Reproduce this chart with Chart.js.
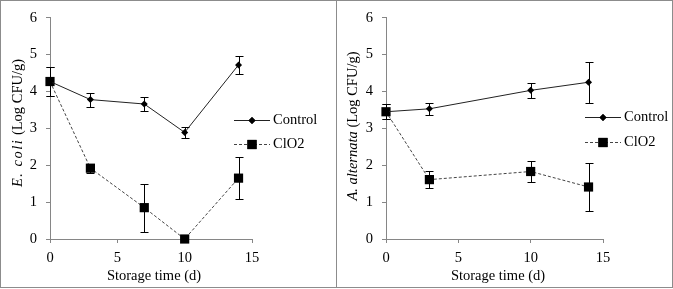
<!DOCTYPE html>
<html>
<head>
<meta charset="utf-8">
<script src="https://cdn.jsdelivr.net/npm/chart.js@4.4.1/dist/chart.umd.min.js"></script>
<style>
    html, body { margin: 0; padding: 0; background: #fff; }
    .panel { position: absolute; top: 0; height: 288px; box-sizing: border-box; border: 1px solid #8c8c8c; }
    canvas { position: absolute; top: 0; }
</style>
</head>
<body>
<div class="panel" style="left:0;width:337px;"></div>
<div class="panel" style="left:336px;width:337px;"></div>
<canvas id="ecoli" width="337" height="288" style="left:0"></canvas>
<canvas id="alter" width="336" height="288" style="left:337px"></canvas>
<script>
(function () {
    'use strict';

    // E. coli panel
    var ecoliDays = [0, 3, 7, 10, 14];
    var ecoliControl = [4.27, 3.78, 3.66, 2.89, 4.72];
    var ecoliControlErr = [0.40, 0.19, 0.18, 0.15, 0.25];
    var ecoliClo2 = [4.27, 1.92, 0.85, 0, 1.65];
    var ecoliClo2Err = [0.40, 0.12, 0.65, 0, 0.56];

    // A. alternata panel
    var alterDays = [0, 3, 10, 14];
    var alterControl = [3.45, 3.53, 4.03, 4.25];
    var alterControlErr = [0.21, 0.16, 0.21, 0.56];
    var alterClo2 = [3.45, 1.61, 1.83, 1.41];
    var alterClo2Err = [0.21, 0.23, 0.29, 0.66];

    var seriesNames = ['Control', 'ClO2'];
    var xRange = [0, 15], xStep = 5;
    var yRange = [0, 6], yStep = 1;

    var fontFamily = '"Liberation Serif", "Times New Roman", serif',
        fontSize = 14.5,
        axisColor = '#868686',
        textColor = '#000';

    function toPoints (xs, ys) {
        return xs.map(function (x, i) {
            return { x: x, y: ys[i] };
        });
    }

    var errorBars = {
        id: 'errorBars',
        afterDatasetsDraw: function (chart) {
            var ctx = chart.ctx,
                xs = chart.scales.x,
                ys = chart.scales.y;
            ctx.save();
            ctx.strokeStyle = '#000';
            ctx.lineWidth = 1;
            chart.data.datasets.forEach(function (ds) {
                ds.data.forEach(function (p, i) {
                    var err = ds.errors[i];
                    if (!err) {
                        return;
                    }
                    var px = Math.round(xs.getPixelForValue(p.x)) + 0.5,
                        top = Math.round(ys.getPixelForValue(p.y + err)) + 0.5,
                        bot = Math.round(ys.getPixelForValue(p.y - err)) + 0.5;
                    ctx.beginPath();
                    ctx.moveTo(px, top);
                    ctx.lineTo(px, bot);
                    ctx.moveTo(px - 4, top);
                    ctx.lineTo(px + 4, top);
                    ctx.moveTo(px - 4, bot);
                    ctx.lineTo(px + 4, bot);
                    ctx.stroke();
                });
            });
            ctx.restore();
        }
    };

    var decorations = {
        id: 'decorations',
        afterDraw: function (chart) {
            var ctx = chart.ctx,
                o = chart.options.plugins.decorations,
                area = chart.chartArea;

            ctx.save();
            ctx.fillStyle = textColor;
            ctx.textBaseline = 'middle';

            // legend
            chart.data.datasets.forEach(function (ds, i) {
                var y = o.legendY[i] + 0.5,
                    x0 = area.right - 18,
                    x1 = area.right + 18;
                ctx.save();
                ctx.strokeStyle = ds.borderColor;
                ctx.lineWidth = 1;
                ctx.setLineDash(ds.borderDash || []);
                ctx.beginPath();
                ctx.moveTo(x0, y);
                ctx.lineTo(x1, y);
                ctx.stroke();
                ctx.restore();
                Chart.helpers.drawPoint(ctx, {
                    pointStyle: ds.pointStyle,
                    radius: ds.pointRadius,
                    rotation: 0,
                    borderWidth: 0
                }, (x0 + x1) / 2, y);
                ctx.fillStyle = '#000';
                ctx.fill();
                ctx.textAlign = 'left';
                ctx.font = fontSize + 'px ' + fontFamily;
                ctx.fillText(ds.label, x1 + 3, y);
            });

            // x title
            ctx.textAlign = 'center';
            ctx.font = fontSize + 'px ' + fontFamily;
            ctx.fillText('Storage time (d)', o.xTitleX, 276);

            // y title, italic species name then units
            var italicFont = 'italic ' + fontSize + 'px ' + fontFamily,
                plainFont = fontSize + 'px ' + fontFamily,
                units = ' (Log CFU/g)',
                w1, w2;
            ctx.font = italicFont;
            ctx.letterSpacing = o.speciesSpacing;
            w1 = ctx.measureText(o.species).width;
            ctx.letterSpacing = '0px';
            ctx.font = plainFont;
            w2 = ctx.measureText(units).width;
            ctx.translate(o.yTitleX, o.yTitleY);
            ctx.rotate(-Math.PI / 2);
            ctx.textAlign = 'left';
            ctx.font = italicFont;
            ctx.letterSpacing = o.speciesSpacing;
            ctx.fillText(o.species, -(w1 + w2) / 2, 0);
            ctx.letterSpacing = '0px';
            ctx.font = plainFont;
            ctx.fillText(units, -(w1 + w2) / 2 + w1, 0);
            ctx.restore();
        }
    };

    function makeChart (id, days, control, controlErr, clo2, clo2Err, opts) {
        return new Chart(document.getElementById(id), {
            type: 'scatter',
            data: {
                datasets: [{
                    label: seriesNames[0],
                    data: toPoints(days, control),
                    errors: controlErr,
                    showLine: true,
                    borderColor: '#222',
                    borderWidth: 1,
                    pointStyle: 'rectRot',
                    pointRadius: 3.5,
                    pointBackgroundColor: '#000',
                    pointBorderWidth: 0,
                    clip: false
                }, {
                    label: seriesNames[1],
                    data: toPoints(days, clo2),
                    errors: clo2Err,
                    showLine: true,
                    borderColor: '#444',
                    borderWidth: 1,
                    borderDash: [3, 2],
                    pointStyle: 'rect',
                    pointRadius: 6.5,
                    pointBackgroundColor: '#000',
                    pointBorderWidth: 0,
                    clip: false
                }]
            },
            options: {
                responsive: false,
                animation: false,
                layout: { padding: { left: 0, top: 16, right: opts.padRight, bottom: 0 } },
                plugins: {
                    legend: { display: false },
                    tooltip: { enabled: false },
                    decorations: opts
                },
                scales: {
                    x: {
                        type: 'linear',
                        min: xRange[0],
                        max: xRange[1],
                        ticks: {
                            stepSize: xStep,
                            padding: 6,
                            color: textColor,
                            font: { family: fontFamily, size: fontSize }
                        },
                        grid: { drawOnChartArea: false, drawTicks: true, tickLength: 4, color: axisColor },
                        border: { color: axisColor },
                        afterFit: function (scale) {
                            scale.height = 49;
                        }
                    },
                    y: {
                        min: yRange[0],
                        max: yRange[1],
                        ticks: {
                            stepSize: yStep,
                            padding: 9,
                            color: textColor,
                            font: { family: fontFamily, size: fontSize }
                        },
                        grid: { drawOnChartArea: false, drawTicks: true, tickLength: 4, color: axisColor },
                        border: { color: axisColor },
                        afterFit: function (scale) {
                            scale.width = opts.axisWidth;
                        }
                    }
                }
            },
            plugins: [errorBars, decorations]
        });
    }

    makeChart('ecoli', ecoliDays, ecoliControl, ecoliControlErr, ecoliClo2, ecoliClo2Err, {
        species: 'E. coli',
        speciesSpacing: '1.5px',
        padRight: 85,
        axisWidth: 50,
        legendY: [120, 144],
        xTitleX: 154,
        yTitleX: 18,
        yTitleY: 123
    });

    makeChart('alter', alterDays, alterControl, alterControlErr, alterClo2, alterClo2Err, {
        species: 'A. alternata',
        speciesSpacing: '0px',
        padRight: 70,
        axisWidth: 49,
        legendY: [117, 142],
        xTitleX: 161,
        yTitleX: 16,
        yTitleY: 126
    });
}());
</script>
</body>
</html>
